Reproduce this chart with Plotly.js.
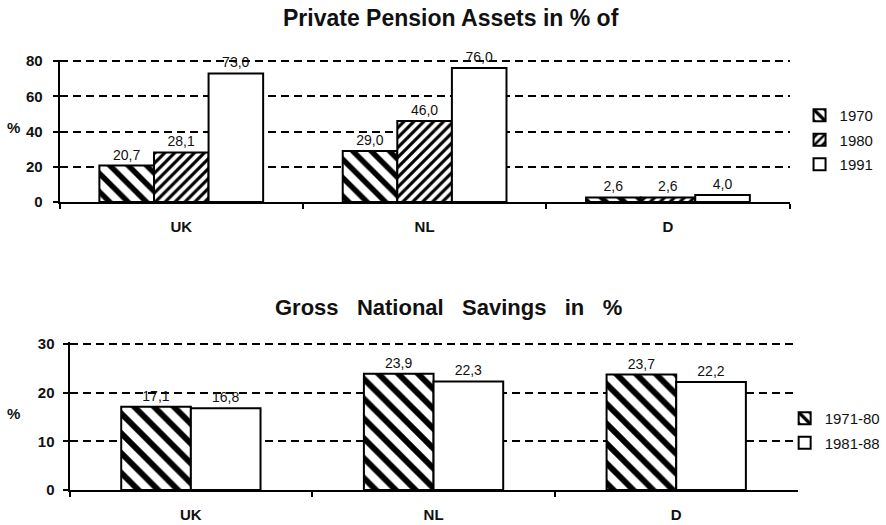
<!DOCTYPE html>
<html>
<head>
<meta charset="utf-8">
<script src="https://cdn.plot.ly/plotly-3.0.1.min.js"></script>
<style>html,body{margin:0;padding:0;background:#fff;}#chart{width:886px;height:525px;}</style>
</head>
<body>
<div id="chart"></div>
<script>
// ---- data ----
const categories = ['UK', 'NL', 'D'];
const pension1970 = [20.7, 29.0, 2.6];
const pension1980 = [28.1, 46.0, 2.6];
const pension1991 = [73.0, 76.0, 4.0];
const savings1971_80 = [17.1, 23.9, 23.7];
const savings1981_88 = [16.8, 22.3, 22.2];
const pensionNames = ['1970', '1980', '1991'];
const savingsNames = ['1971-80', '1981-88'];
const topTitle = 'Private Pension Assets in % of';
const bottomTitle = 'Gross\u00a0\u00a0\u00a0National\u00a0\u00a0\u00a0Savings\u00a0\u00a0\u00a0in\u00a0\u00a0\u00a0%';

const FONT = 'Liberation Sans, Arial, Helvetica, sans-serif';
const W = 886, H = 525;
const px = v => v / W;
const py = v => (H - v) / H;

const lineStyle = {color: '#000', width: 2};
const textFont = {family: FONT, size: 14, color: '#111'};

function bar(y, name, pattern, xa, ya, legend, extra) {
  return Object.assign({
    type: 'bar', x: categories, y: y, name: name,
    xaxis: xa, yaxis: ya, legend: legend, legendgroup: name,
    marker: {color: '#fff', line: lineStyle, pattern: pattern},
    texttemplate: '%{y:.1f}', textposition: 'outside', textfont: textFont,
    constraintext: 'none',
    cliponaxis: false, hoverinfo: 'skip'
  }, extra || {});
}

const patBack = s => ({shape: '\\', fgcolor: '#000', bgcolor: '#fff', size: s, solidity: 0.42});
const patFwd = s => ({shape: '/', fgcolor: '#000', bgcolor: '#fff', size: s, solidity: 0.45});

const traces = [
  bar(pension1970, pensionNames[0], patBack(13), 'x', 'y', 'legend'),
  bar(pension1980, pensionNames[1], patFwd(7), 'x', 'y', 'legend'),
  bar(pension1991, pensionNames[2], {shape: ''}, 'x', 'y', 'legend'),
  bar(savings1971_80, savingsNames[0], patBack(14), 'x2', 'y2', 'legend2', {offset: -0.287, width: 0.287}),
  bar(savings1981_88, savingsNames[1], {shape: ''}, 'x2', 'y2', 'legend2', {offset: 0, width: 0.287})
];

const xCommon = {
  type: 'category', showline: true, linecolor: '#000', linewidth: 2,
  ticks: 'outside', tickson: 'boundaries', ticklen: 5, tickwidth: 2, tickcolor: '#000',
  showgrid: false, zeroline: false, fixedrange: true,
  tickfont: {family: FONT, size: 15, color: '#111', weight: 700},
  ticklabelstandoff: 10
};
const yCommon = {
  showline: true, linecolor: '#000', linewidth: 2,
  ticks: 'outside', ticklen: 5, tickwidth: 2, tickcolor: '#000',
  showgrid: true, gridcolor: '#000', gridwidth: 2, griddash: '8px,5px',
  zeroline: false, fixedrange: true,
  tickfont: {family: FONT, size: 15, color: '#111', weight: 700}
};

const layout = {
  width: W, height: H,
  margin: {l: 0, r: 0, t: 0, b: 0},
  paper_bgcolor: '#fff', plot_bgcolor: '#fff',
  barmode: 'group', bargap: 0.327, bargroupgap: 0,
  separators: ',.',
  font: {family: FONT, color: '#111'},
  xaxis: Object.assign({}, xCommon, {domain: [px(60), px(795)], anchor: 'y'}),
  yaxis: Object.assign({}, yCommon, {domain: [py(202), py(60)], anchor: 'x', range: [0, 80.6], tickvals: [0, 20, 40, 60, 80], ticklabelstandoff: 7}),
  xaxis2: Object.assign({}, xCommon, {domain: [px(70), px(803)], anchor: 'y2'}),
  yaxis2: Object.assign({}, yCommon, {domain: [py(490), py(342)], anchor: 'x2', range: [0, 30.4], tickvals: [0, 10, 20, 30], ticklabelstandoff: 5}),
  legend: {
    x: px(805), y: py(99), xanchor: 'left', yanchor: 'top',
    font: {family: FONT, size: 15, color: '#111'}, tracegroupgap: 2,
    bgcolor: 'rgba(0,0,0,0)', itemwidth: 30
  },
  legend2: {
    x: px(790), y: py(402), xanchor: 'left', yanchor: 'top',
    font: {family: FONT, size: 15, color: '#111'}, tracegroupgap: 2,
    bgcolor: 'rgba(0,0,0,0)', itemwidth: 30
  },
  annotations: [
    {text: topTitle, xref: 'paper', yref: 'paper', x: px(454), y: py(18), showarrow: false,
     xanchor: 'center', yanchor: 'middle', font: {family: FONT, size: 23, color: '#111', weight: 700}},
    {text: bottomTitle, xref: 'paper', yref: 'paper', x: px(452), y: py(307), showarrow: false,
     xanchor: 'center', yanchor: 'middle', font: {family: FONT, size: 22, color: '#111', weight: 700}},
    {text: '%', xref: 'paper', yref: 'paper', x: px(14), y: py(127), showarrow: false,
     xanchor: 'center', yanchor: 'middle', font: {family: FONT, size: 15, color: '#111', weight: 700}},
    {text: '%', xref: 'paper', yref: 'paper', x: px(14), y: py(413), showarrow: false,
     xanchor: 'center', yanchor: 'middle', font: {family: FONT, size: 15, color: '#111', weight: 700}}
  ]
};

Plotly.newPlot('chart', traces, layout, {displayModeBar: false, staticPlot: true});
</script>
</body>
</html>
